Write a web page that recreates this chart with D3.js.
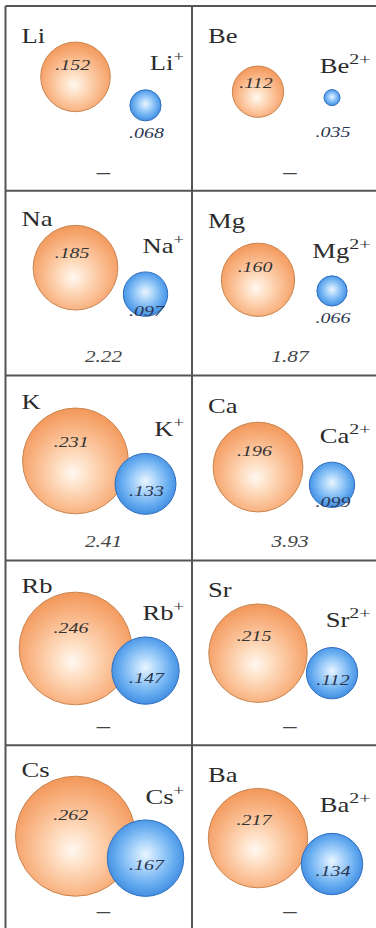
<!DOCTYPE html>
<html>
<head>
<meta charset="utf-8">
<script src="https://cdn.jsdelivr.net/npm/d3@7"></script>
<style>
  html, body { margin: 0; padding: 0; background: #fff; }
  svg { display: block; }
</style>
</head>
<body>
<svg id="chart" width="376" height="928"></svg>
<script>
// Group 1 and group 2 metals: atomic radius vs. ionic radius (nm)
const atoms = ["Li", "Be", "Na", "Mg", "K", "Ca", "Rb", "Sr", "Cs", "Ba"];
const charges = ["+", "2+", "+", "2+", "+", "2+", "+", "2+", "+", "2+"];
const atomRadius = [0.152, 0.112, 0.185, 0.160, 0.231, 0.196, 0.246, 0.215, 0.262, 0.217];
const ionRadius = [0.068, 0.035, 0.097, 0.066, 0.133, 0.099, 0.147, 0.112, 0.167, 0.134];
const bottomValues = [null, null, 2.22, 1.87, 2.41, 3.93, null, null, null, null];

const svg = d3.select("#chart");
const W = 376, H = 928;

// grid of cells: 2 columns x 5 rows
const colScale = d3.scaleBand().domain([0, 1]).range([5.5, 378.5]);
const rowScale = d3.scaleBand().domain(d3.range(5)).range([6, 930]);
const cw = colScale.bandwidth(), ch = rowScale.bandwidth();

// radius scale (nm -> px)
const rScale = d3.scaleLinear().domain([0, 0.262]).range([0, 60]);

const fmtR = v => d3.format(".3f")(v).replace(/^0/, "");
const fmtB = d3.format(".2f");

// gradients
const defs = svg.append("defs");
const og = defs.append("radialGradient").attr("id", "gOrange")
  .attr("cx", 0.5).attr("cy", 0.58).attr("r", 0.56).attr("fx", 0.47).attr("fy", 0.62);
[[0, "#fff8f1"], [0.3, "#fedcbf"], [0.7, "#f9b585"], [1, "#f39a5e"]]
  .forEach(([o, c]) => og.append("stop").attr("offset", o).attr("stop-color", c));
const bg = defs.append("radialGradient").attr("id", "gBlue")
  .attr("cx", 0.5).attr("cy", 0.48).attr("r", 0.56).attr("fx", 0.5).attr("fy", 0.45);
[[0, "#eaf5ff"], [0.3, "#aed6fb"], [0.7, "#63aaef"], [1, "#3b86dd"]]
  .forEach(([o, c]) => bg.append("stop").attr("offset", o).attr("stop-color", c));

// layout derived from each cell and the radii
const cells = atoms.map((a, i) => {
  const col = i % 2, row = Math.floor(i / 2);
  const x0 = colScale(col), y0 = rowScale(row);
  const ra = rScale(atomRadius[i]), ri = rScale(ionRadius[i]);
  const ax = x0 + (col === 0 ? 70 : 66);
  const ay = col === 0 ? y0 + 43 + 0.8 * ra : y0 + 78 + 0.3 * ra;
  const ix = x0 + 140;
  const iy = col === 0 ? y0 + 90 + 0.6 * ri : y0 + 82 + 1.2 * ri;
  return { i, col, row, x0, y0, ra, ri, ax, ay, ix, iy };
});

const stretch = 1.33;
const serif = "'Liberation Serif', 'Times New Roman', serif";
function stretchedText(g, x, y, anchor) {
  return g.append("text")
    .attr("transform", `translate(${x},${y}) scale(${stretch},1)`)
    .attr("text-anchor", anchor)
    .attr("font-family", serif);
}

const plot = svg.append("g");

cells.forEach(c => {
  const g = plot.append("g");
  // atom
  g.append("circle").attr("cx", c.ax).attr("cy", c.ay).attr("r", c.ra)
    .attr("fill", "url(#gOrange)").attr("stroke", "#c98550").attr("stroke-width", 1);
  // ion
  g.append("circle").attr("cx", c.ix).attr("cy", c.iy).attr("r", c.ri)
    .attr("fill", "url(#gBlue)").attr("stroke", "#2f6fc0").attr("stroke-width", 1);

  const aTop = c.ay - c.ra;
  // element symbol
  stretchedText(g, c.x0 + 16, Math.min(c.y0 + 37, aTop + 1), "start")
    .attr("font-size", 20).attr("fill", "#2b2b2b")
    .text(atoms[c.i]);

  // ion symbol with superscript charge
  const ion = stretchedText(g, c.x0 + cw - 8, Math.min(c.y0 + 67, aTop + 28), "end")
    .attr("font-size", 20).attr("fill", "#2b2b2b");
  ion.append("tspan").text(atoms[c.i]);
  ion.append("tspan").attr("dy", -9).attr("font-size", charges[c.i] === "+" ? 14 : 15)
    .text(charges[c.i]);

  // atomic radius value
  stretchedText(g, c.ax - 0.08 * c.ra, c.ay - 0.36 * c.ra, "middle")
    .attr("dy", "0.35em")
    .attr("font-style", "italic").attr("font-size", 15).attr("fill", "#333")
    .text(fmtR(atomRadius[c.i]));

  // ionic radius value
  const off = c.ri < 18 ? c.ri + 12 : (c.ri < 25 ? 0.75 * c.ri : 7);
  const ly = c.ri < 18 ? Math.max(c.iy + off, c.y0 + 126) : c.iy + off;
  stretchedText(g, c.ix + 1, ly, "middle")
    .attr("dy", "0.35em")
    .attr("font-style", "italic").attr("font-size", 15).attr("fill", "#2a3550")
    .text(fmtR(ionRadius[c.i]));

  // bottom value, or a dash when none
  const bv = bottomValues[c.i];
  stretchedText(g, c.x0 + 98, c.y0 + 166, "middle")
    .attr("dy", "0.35em")
    .attr("font-style", "italic").attr("font-size", bv == null ? 20 : 16).attr("fill", "#444")
    .text(bv == null ? "\u2013" : fmtB(bv));
});

// grid lines
const grid = svg.append("g").attr("stroke", "#555").attr("stroke-width", 2);
d3.range(5).forEach(r => {
  grid.append("line").attr("x1", colScale(0)).attr("x2", W)
    .attr("y1", rowScale(r)).attr("y2", rowScale(r));
});
[colScale(0), colScale(1)].forEach(x => {
  grid.append("line").attr("x1", x).attr("x2", x)
    .attr("y1", rowScale(0)).attr("y2", H);
});
</script>
</body>
</html>
